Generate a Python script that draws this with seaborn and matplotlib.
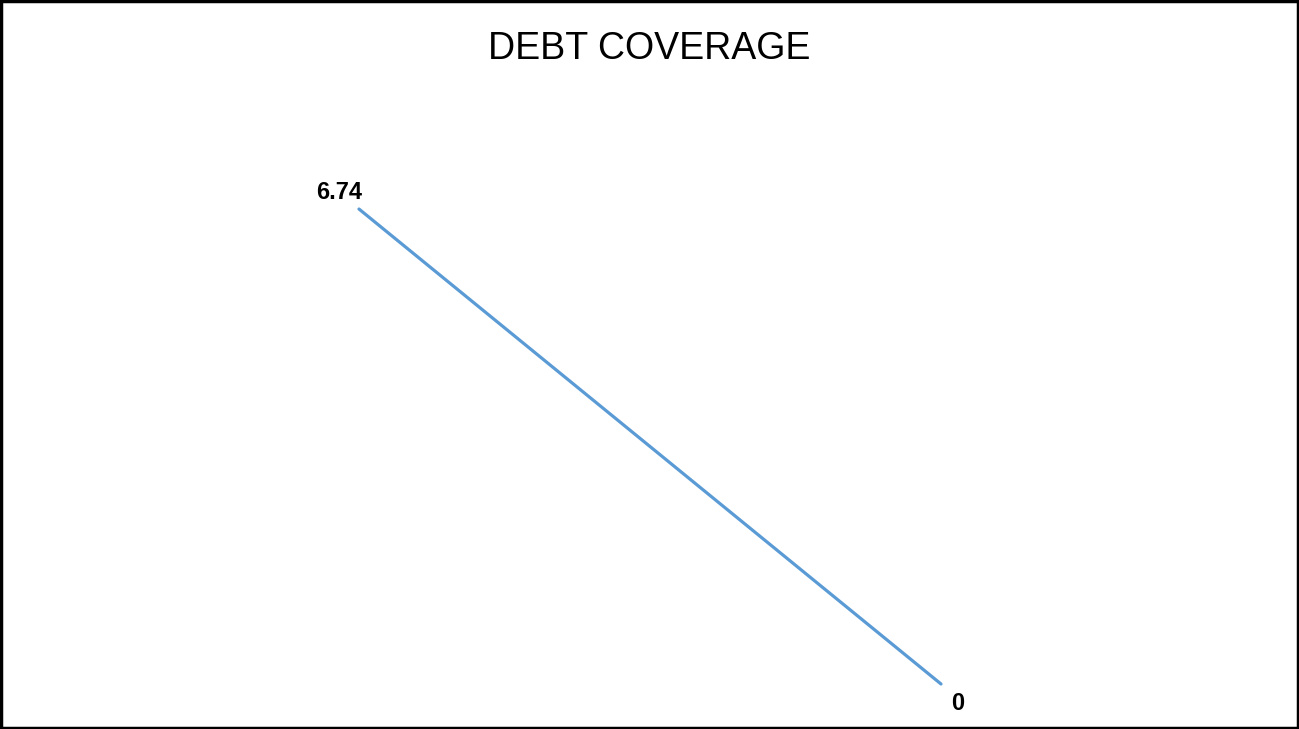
import matplotlib
matplotlib.use("Agg")
import matplotlib.pyplot as plt
import seaborn as sns
import pandas as pd
from matplotlib.patches import Rectangle

# Data
categories = ["Period 1", "Period 2"]
values = [6.74, 0]
labels = ["6.74", "0"]

sns.set_theme(style="white")
plt.rcParams['font.family'] = ['Liberation Sans', 'DejaVu Sans']

df = pd.DataFrame({"period": categories, "value": values})

fig = plt.figure(figsize=(12.99, 7.29), dpi=100)
ax = fig.add_axes([0, 0, 1, 1])
sns.lineplot(data=df, x="period", y="value", ax=ax, color="#5B9BD5",
             linewidth=2.3, sort=False)

# map the two categories to the reference positions
ax.set_xlim(-0.6168, 1.6151)
ax.set_ylim(-0.6386, 9.706)
ax.axis("off")

offsets = [(-14.4, 12.2), (12.2, -13.7)]
for i, (lab, v) in enumerate(zip(labels, values)):
    ax.annotate(lab, xy=(i, v), xytext=offsets[i], textcoords="offset points",
                ha="center", va="center", fontsize=17, fontweight="bold",
                color="black")

fig.text(0.5, 1 - 49 / 729, "DEBT COVERAGE", ha="center", va="center",
         fontsize=27, color="black")

fig.patches.append(Rectangle((0.001, 0.002), 0.998, 0.996, transform=fig.transFigure,
                             fill=False, edgecolor="black", linewidth=2.5))

fig.savefig("out.png", dpi=100, facecolor="white")
